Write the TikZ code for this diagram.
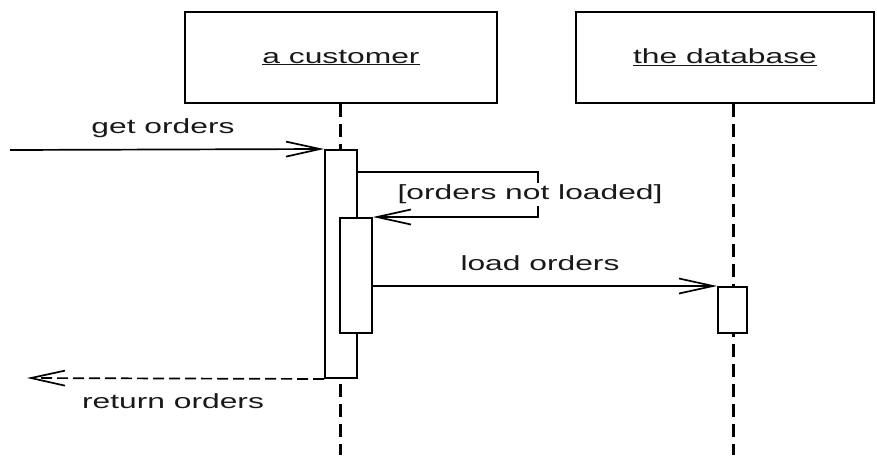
\documentclass[tikz,border=0pt]{standalone}
\usepackage{fontspec}
\newfontfamily\seqfont[FakeStretch=1.55]{Liberation Sans}
\usetikzlibrary{arrows.meta}

\tikzset{
  object/.style={draw, line width=2.5pt, minimum width=#1, minimum height=91pt,
    inner sep=0pt, text=black!90, font=\seqfont\fontsize{20.5}{24}\selectfont},
  activation/.style={draw, fill=white, line width=2pt, inner sep=0pt},
  lifeline/.style={line width=3pt, dash pattern=on 13pt off 7pt},
  msg/.style={line width=1.7pt, -{Straight Barb[length=34pt,width=15pt,line width=1.7pt]}},
  ret/.style={msg, dash pattern=on 11pt off 5pt},
  lbl/.style={font=\seqfont\fontsize{20.5}{24}\selectfont, text=black!90, inner sep=0pt},
}

\begin{document}
\begin{tikzpicture}[x=1pt, y=-1pt]
  \useasboundingbox (0,0) rectangle (877,461);

  % objects
  \node[object=312pt] (cust) at (341,57.5) {\underline{a customer}};
  \node[object=298pt] (db) at (725,57.5) {\underline{the database}};

  % lifelines
  \coordinate (custEnd) at (340,455);
  \coordinate (dbEnd) at (733,455);
  \draw[lifeline] (cust.south -| custEnd) -- (custEnd);
  \draw[lifeline] (db.south -| dbEnd) -- (dbEnd);

  % activations
  \node[activation, minimum width=32pt, minimum height=228pt] (actA) at (341,264) {};
  \node[activation, minimum width=32pt, minimum height=115pt] (actB) at (356,275.5) {};
  \node[activation, minimum width=29pt, minimum height=46pt] (actC) at (732.5,310) {};

  % get orders
  \coordinate (caller) at (10,150);
  \draw[msg] (caller) -- (actA.north west);
  \node[lbl, anchor=base] (getLbl) at (163,133) {get orders};

  % self call
  \coordinate (selfOut) at (357,172);
  \coordinate (selfTurn) at (538,172);
  \draw[msg] (selfOut) -- (selfTurn)
    -- node[lbl, fill=white, inner ysep=2pt, xshift=-8pt] (condLbl) {[orders not loaded]} (selfTurn |- actB.north)
    -- (actB.north east);

  % load orders
  \draw[msg] (actB.east |- actC.north west) -- (actC.north west);
  \node[lbl, anchor=base] (loadLbl) at (540,270) {load orders};

  % return orders
  \coordinate (callerBack) at (27,378);
  \draw[ret] (actA.south west) -- (callerBack);
  \node[lbl, anchor=base] (retLbl) at (173,408) {return orders};
\end{tikzpicture}
\end{document}
